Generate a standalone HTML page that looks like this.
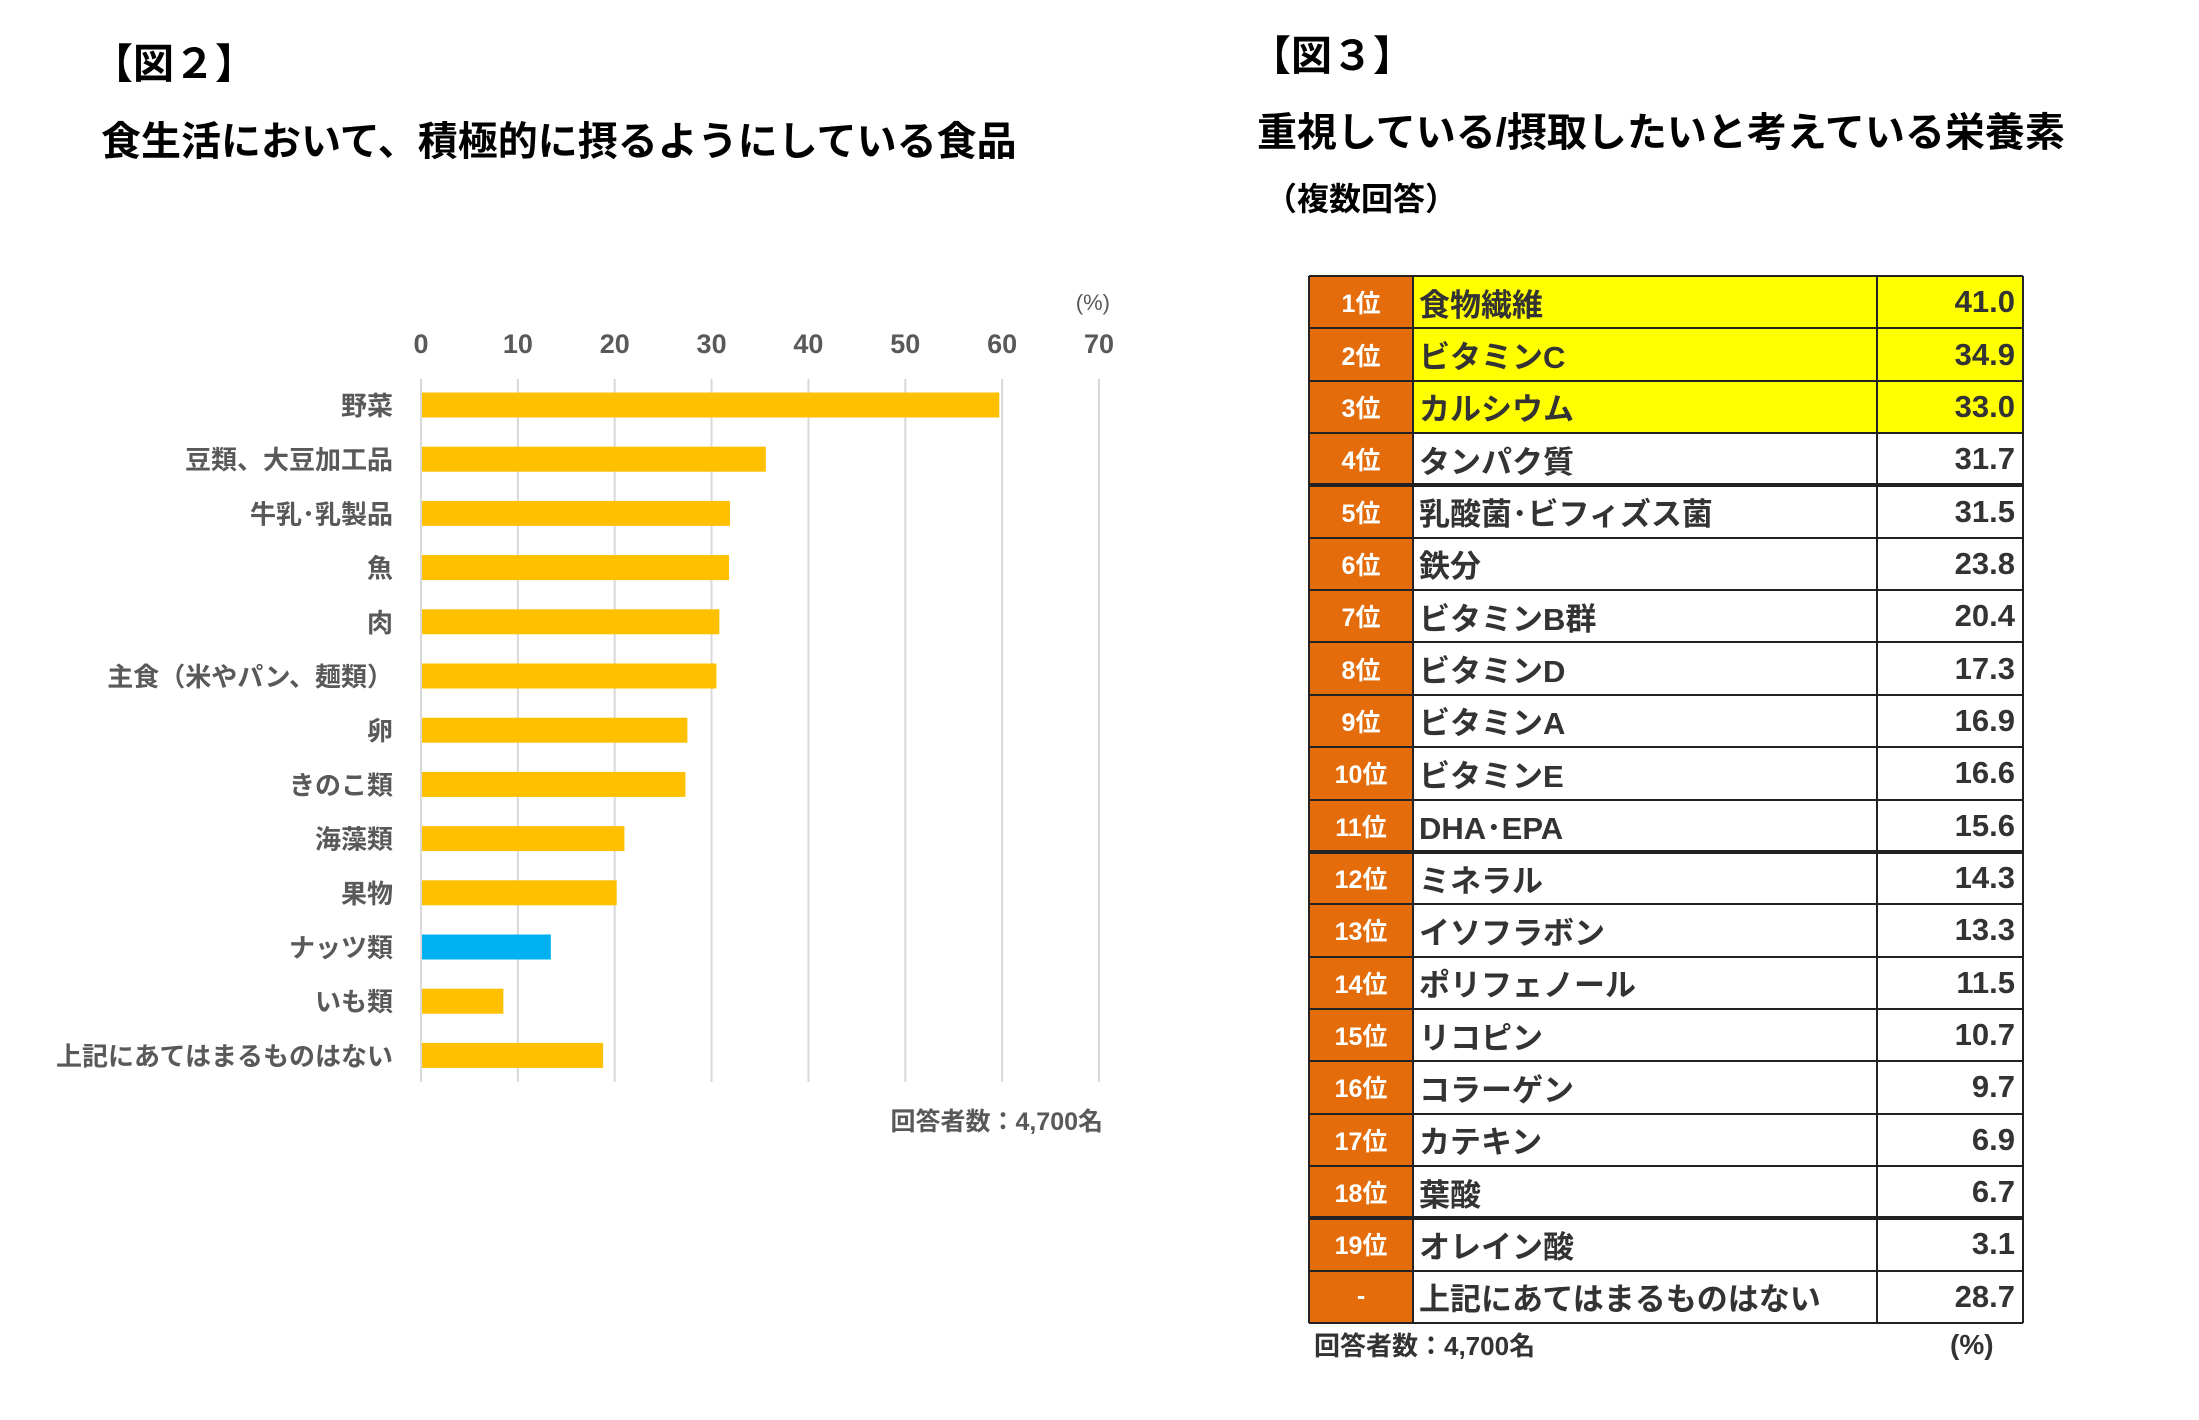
<!DOCTYPE html>
<html><head><meta charset="utf-8">
<style>
body{margin:0;width:2199px;height:1369px;background:#fff;position:relative;overflow:hidden;font-family:"Liberation Sans","Noto Sans CJK JP",sans-serif;}
.t{position:absolute;white-space:nowrap;font-weight:bold;color:#000;line-height:1;}
.cell{position:absolute;box-sizing:border-box;display:flex;align-items:center;white-space:nowrap;overflow:hidden;font-weight:bold;color:#333;font-size:31px;}
.rk{background:#E46C0A;color:#fff;justify-content:center;font-size:25px;}
.nm{padding-left:6px;}
.vl{justify-content:flex-end;padding-right:8px;}
.hl{background:#FFFF00;}
.hline{position:absolute;background:#222;}
</style></head><body>
<div class="t" style="left:92px;top:44px;font-size:41px;">【図２】</div>
<div class="t" style="left:101px;top:122px;font-size:40px;">食生活において、積極的に摂るようにしている食品</div>
<div class="t" style="left:1250px;top:36px;font-size:41px;">【図３】</div>
<div class="t" style="left:1257px;top:113px;font-size:40px;">重視している/摂取したいと考えている栄養素</div>
<div class="t" style="left:1265px;top:183px;font-size:32px;">（複数回答）</div>

<svg id="chart" width="1160" height="1160" style="position:absolute;left:0;top:260px;" font-family="Liberation Sans, Noto Sans CJK JP, sans-serif"></svg>

<div id="tbl" style="position:absolute;left:0;top:0;"></div>
<div class="t" style="left:1314px;top:1333px;font-size:26px;color:#333;">回答者数：4,700名</div>
<div class="t" style="left:1950px;top:1331px;font-size:28px;color:#333;">(%)</div>

<script>
const categories=["野菜","豆類、大豆加工品","牛乳･乳製品","魚","肉","主食（米やパン、麺類）","卵","きのこ類","海藻類","果物","ナッツ類","いも類","上記にあてはまるものはない"];
const values=[59.6,35.5,31.8,31.7,30.7,30.4,27.4,27.2,20.9,20.1,13.3,8.4,18.7];
const highlight=["ナッツ類"];
const ticks=[0,10,20,30,40,50,60,70];

const ranks=["1位","2位","3位","4位","5位","6位","7位","8位","9位","10位","11位","12位","13位","14位","15位","16位","17位","18位","19位","-"];
const nutrients=["食物繊維","ビタミンC","カルシウム","タンパク質","乳酸菌･ビフィズス菌","鉄分","ビタミンB群","ビタミンD","ビタミンA","ビタミンE","DHA･EPA","ミネラル","イソフラボン","ポリフェノール","リコピン","コラーゲン","カテキン","葉酸","オレイン酸","上記にあてはまるものはない"];
const nutrientValues=[41.0,34.9,33.0,31.7,31.5,23.8,20.4,17.3,16.9,16.6,15.6,14.3,13.3,11.5,10.7,9.7,6.9,6.7,3.1,28.7];

const NS="http://www.w3.org/2000/svg";
const svg=document.getElementById('chart');
const OY=260;
const x0=421,x1=1099,xmax=70;
const X=v=>x0+(x1-x0)*v/xmax;
const yTop=405-OY,step=54.2;
const Y=i=>yTop+i*step;
function mk(t,a){const e=document.createElementNS(NS,t);for(const k in a)e.setAttribute(k,a[k]);svg.appendChild(e);return e;}
ticks.forEach(t=>{
  const g=mk('line',{x1:X(t),x2:X(t),y1:379-OY,y2:1082-OY,stroke:'#d9d9d9','stroke-width':2});
  
  
  const l=mk('text',{x:X(t),y:353-OY,'text-anchor':'middle','font-size':27,fill:'#595959','font-weight':'bold'});
  l.textContent=t;
  
  
});
const pu=mk('text',{x:1110,y:310-OY,'text-anchor':'end','font-size':22,fill:'#595959'});
pu.textContent='(%)';


categories.forEach((c,i)=>{
  const b=mk('rect',{x:X(0)+1,y:Y(i)-12.5,width:X(values[i])-X(0),height:25,fill:highlight.includes(c)?'#00B0F0':'#FFC000'});
  
  
  const l=mk('text',{x:393,y:Y(i)+10,'text-anchor':'end','font-size':26,fill:'#595959','font-weight':'bold'});
  l.textContent=c;
  
  
});
const rn=mk('text',{x:1103,y:1130-OY,'text-anchor':'end','font-size':25,fill:'#595959','font-weight':'bold'});
rn.textContent='回答者数：4,700名';



const tbl=document.getElementById('tbl');
const TL=1309,TR=2023,TT=276,RH=52.35,C1=1413,C2=1877;
function cell(cls,l,w,t,txt,name){
  const d=document.createElement('div');
  d.className='cell '+cls;
  d.style.left=l+'px';d.style.width=w+'px';d.style.top=t+'px';d.style.height=RH+'px';
  d.textContent=txt;
  
  
  tbl.appendChild(d);
}
ranks.forEach((r,i)=>{
  const t=TT+i*RH;
  const hl=i<3?' hl':'';
  cell('rk',TL,C1-TL,t,r,'rank-cell-'+(i+1));
  cell('nm'+hl,C1,C2-C1,t,nutrients[i],'nutrient-cell-'+(i+1));
  cell('vl'+hl,C2,TR-C2,t,nutrientValues[i].toFixed(1),'value-cell-'+(i+1));
});
function line(l,t,w,h,name){
  const d=document.createElement('div');d.className='hline';
  d.style.left=l+'px';d.style.top=t+'px';d.style.width=w+'px';d.style.height=h+'px';
  
  
  tbl.appendChild(d);
}
for(let i=0;i<=ranks.length;i++){
  const thick=(i===4||i===11||i===18);
  line(TL,TT+i*RH-(thick?2:1),TR-TL,thick?4:2,'row-border-'+i);
}
[TL,C1,C2,TR].forEach((x,j)=>line(x-1,TT,2,RH*ranks.length,'col-border-'+j));
</script>
</body></html>
